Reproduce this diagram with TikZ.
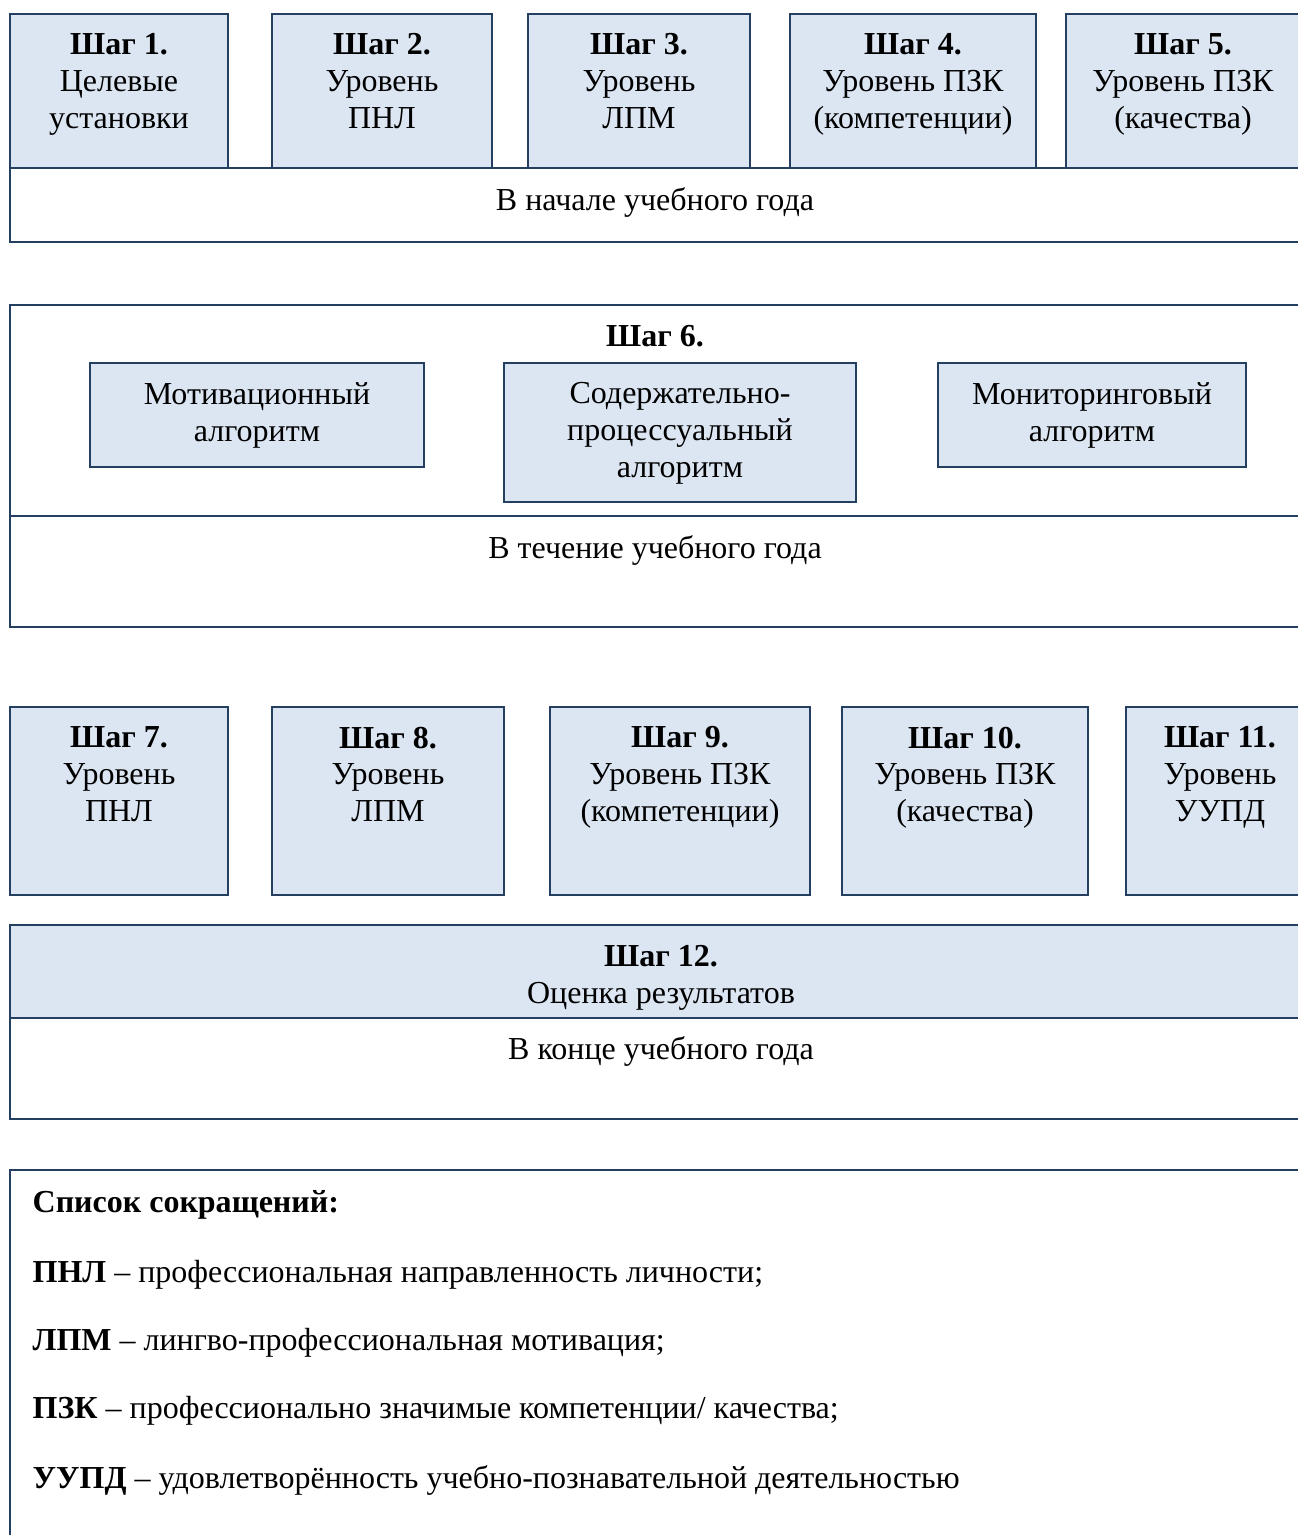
\documentclass[tikz,border=0pt]{standalone}
\usepackage{fontspec}
\setmainfont{Liberation Serif}
\definecolor{boxline}{HTML}{243F60}
\definecolor{boxfill}{HTML}{DCE6F2}
\tikzset{
  cell/.style={draw=boxline, line width=0.7pt},
  stepcell/.style={cell, fill=boxfill},
  txt/.style={align=center, inner sep=0pt, anchor=north, font=\fontsize{9.1}{10.5}\selectfont},
  oneline/.style={inner sep=0pt, anchor=base, font=\fontsize{9.1}{10.5}\selectfont},
  legline/.style={inner sep=0pt, anchor=base west, font=\fontsize{9.1}{10.5}\selectfont}
}
\begin{document}
\begin{tikzpicture}[x=0.01cm,y=-0.01cm]
\useasboundingbox (0,0) rectangle (1298,1535);
\clip (0,0) rectangle (1298,1535);
\draw[cell] (10,168) rectangle (1320,242);
\draw[stepcell] (10,14) rectangle (228,168);
\draw[stepcell] (272,14) rectangle (492,168);
\draw[stepcell] (528,14) rectangle (750,168);
\draw[stepcell] (790,14) rectangle (1036,168);
\draw[stepcell] (1066,14) rectangle (1320,168);
\node[txt] (s1) at (119,33) {\textbf{Шаг 1.}\\Целевые\\установки};
\node[txt] (s2) at (382,33) {\textbf{Шаг 2.}\\Уровень\\ПНЛ};
\node[txt] (s3) at (639,33) {\textbf{Шаг 3.}\\Уровень\\ЛПМ};
\node[txt] (s4) at (913,33) {\textbf{Шаг 4.}\\Уровень ПЗК\\(компетенции)};
\node[txt] (s5) at (1183,33) {\textbf{Шаг 5.}\\Уровень ПЗК\\(качества)};
\node[oneline] (start) at (655,210) {В начале учебного года};
\draw[cell] (10,305) rectangle (1320,627);
\draw[cell] (10,516) -- (1320,516);
\node[oneline] (s6) at (655,346) {\textbf{Шаг 6.}};
\draw[stepcell] (90,363) rectangle (424,467);
\draw[stepcell] (504,363) rectangle (856,502);
\draw[stepcell] (938,363) rectangle (1246,467);
\node[txt] (motiv) at (257,382) {Мотивационный\\алгоритм};
\node[txt] (content) at (680,382) {Содержательно-\\процессуальный\\алгоритм};
\node[txt] (monitor) at (1092,382) {Мониторинговый\\алгоритм};
\node[oneline] (during) at (655,558) {В течение учебного года};
\draw[stepcell] (10,707) rectangle (228,895);
\draw[stepcell] (272,707) rectangle (504,895);
\draw[stepcell] (550,707) rectangle (810,895);
\draw[stepcell] (842,707) rectangle (1088,895);
\draw[stepcell] (1126,707) rectangle (1320,895);
\node[txt] (s7) at (119,726) {\textbf{Шаг 7.}\\Уровень\\ПНЛ};
\node[txt] (s8) at (388,726) {\textbf{Шаг 8.}\\Уровень\\ЛПМ};
\node[txt] (s9) at (680,726) {\textbf{Шаг 9.}\\Уровень ПЗК\\(компетенции)};
\node[txt] (s10) at (965,726) {\textbf{Шаг 10.}\\Уровень ПЗК\\(качества)};
\node[txt] (s11) at (1220,726) {\textbf{Шаг 11.}\\Уровень\\УУПД};
\draw[cell] (10,1018) rectangle (1320,1119);
\draw[stepcell] (10,925) rectangle (1320,1018);
\node[txt] (s12) at (661,945) {\textbf{Шаг 12.}\\Оценка результатов};
\node[oneline] (finish) at (661,1059) {В конце учебного года};
\draw[cell] (10,1170) rectangle (1320,1560);
\node[legline] (legend) at (32,1212) {\textbf{Список сокращений:}};
\node[legline] (pnl) at (32,1282) {\textbf{ПНЛ} – профессиональная направленность личности;};
\node[legline] (lpm) at (32,1350) {\textbf{ЛПМ} – лингво-профессиональная мотивация;};
\node[legline] (pzk) at (32,1418) {\textbf{ПЗК} – профессионально значимые компетенции/ качества;};
\node[legline] (uupd) at (32,1488) {\textbf{УУПД} – удовлетворённость учебно-познавательной деятельностью};
\end{tikzpicture}
\end{document}
